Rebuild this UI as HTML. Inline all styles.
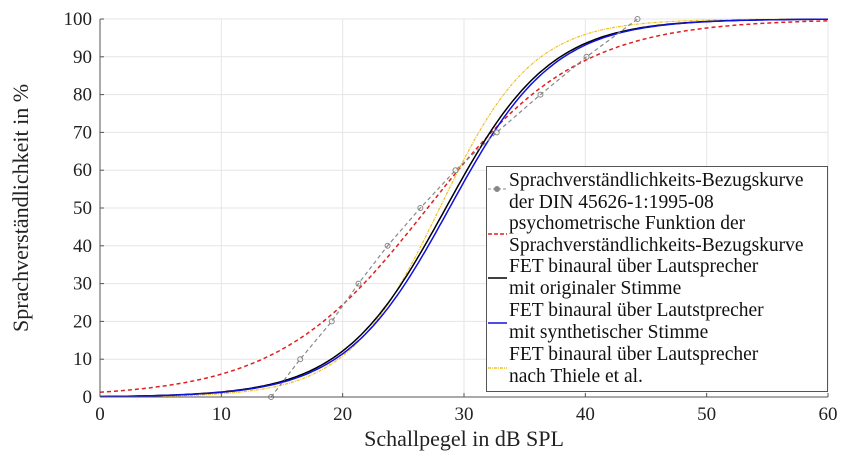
<!DOCTYPE html>
<html><head><meta charset="utf-8"><style>
body{margin:0;background:#fff;}
svg{display:block;}
svg text{font-family:"Liberation Serif","Times New Roman",Times,"DejaVu Serif",serif;}
</style></head><body>
<svg id="s" width="846" height="457" xmlns="http://www.w3.org/2000/svg">
<rect width="846" height="457" fill="#fff"/>
<g id="grid" stroke="#e6e6e6" stroke-width="1"></g>
<g id="curves" fill="none"></g>
<g stroke="#555" stroke-width="1" fill="none">
<line x1="100" y1="397" x2="828" y2="397"/>
<line x1="100" y1="19" x2="100" y2="397"/>
</g>
<g id="ticks" fill="#222" font-size="19"></g>
<text x="464" y="446" text-anchor="middle" font-size="22" fill="#222">Schallpegel in dB SPL</text>
<text transform="translate(28,208) rotate(-90)" text-anchor="middle" font-size="22" fill="#222">Sprachverständlichkeit in %</text>
<g>
<rect x="486.5" y="166.5" width="341" height="225" fill="#fff" stroke="#555"/>
<g font-size="19.5" fill="#111">
<text x="509" y="186">Sprachverständlichkeits-Bezugskurve</text>
<text x="509" y="208">der DIN 45626-1:1995-08</text>
<text x="509" y="229">psychometrische Funktion der</text>
<text x="509" y="251">Sprachverständlichkeits-Bezugskurve</text>
<text x="509" y="272">FET binaural über Lautsprecher</text>
<text x="509" y="294">mit originaler Stimme</text>
<text x="509" y="316">FET binaural über Lautstprecher</text>
<text x="509" y="338">mit synthetischer Stimme</text>
<text x="509" y="360">FET binaural über Lautsprecher</text>
<text x="509" y="382">nach Thiele et al.</text>
</g>
<line x1="488" y1="189" x2="507" y2="189" stroke="#888" stroke-dasharray="3,2"/>
<circle cx="497" cy="189" r="2.5" fill="#888" stroke="#888"/>
<line x1="488" y1="234" x2="507" y2="234" stroke="#e02020" stroke-width="1.5" stroke-dasharray="4,2"/>
<line x1="488" y1="278" x2="507" y2="278" stroke="#000" stroke-width="1.5"/>
<line x1="488" y1="323" x2="507" y2="323" stroke="#1010e0" stroke-width="1.5"/>
<line x1="488" y1="368" x2="507" y2="368" stroke="#f0c020" stroke-width="1.5" stroke-dasharray="3,1,1,1"/>
</g>
</svg>
<script>
var X=function(x){return 100+x*728/60;},Y=function(y){return 397-y*3.78;};
var ns="http://www.w3.org/2000/svg";
function el(p,t,a){var e=document.createElementNS(ns,t);for(var k in a)e.setAttribute(k,a[k]);p.appendChild(e);return e;}
var g=document.getElementById("grid"),tk=document.getElementById("ticks"),c=document.getElementById("curves");
for(var i=0;i<=6;i++){var x=X(i*10);if(i>0)el(g,"line",{x1:x,y1:19,x2:x,y2:397});
 var t=el(tk,"text",{x:x,y:420,"text-anchor":"middle"});t.textContent=i*10;
 el(tk,"line",{x1:x,y1:397,x2:x,y2:393,stroke:"#555"});}
for(var j=0;j<=10;j++){var y=Y(j*10);if(j>0)el(g,"line",{x1:100,y1:y,x2:828,y2:y});
 var t=el(tk,"text",{x:92,y:y+6,"text-anchor":"end"});t.textContent=j*10;
 el(tk,"line",{x1:100,y1:y,x2:104,y2:y,stroke:"#555"});}
function curve(m,s,col,dash,w){var d="";for(var x=0;x<=60;x+=0.25){var p=100/(1+Math.exp(-(x-m)/s));d+=(x?"L":"M")+X(x).toFixed(1)+","+Y(p).toFixed(1);}
 var a={d:d,stroke:col,"stroke-width":w||1.5};if(dash)a["stroke-dasharray"]=dash;el(c,"path",a);}
curve(27,6.2,"#e02020","4,3");
curve(28.0,3.8,"#f0c020","3,1,1,1",1.2);
curve(28.5,4.3,"#000");
curve(28.8,4.3,"#1010e0");
var pts=[[14.1,0],[16.5,10],[19.1,20],[21.3,30],[23.7,40],[26.4,50],[29.3,60],[32.7,70],[36.3,80],[40.1,90],[44.3,100]];
var d="";pts.forEach(function(p,i){d+=(i?"L":"M")+X(p[0])+","+Y(p[1]);});
el(c,"path",{d:d,stroke:"#888","stroke-width":1.2,"stroke-dasharray":"4,3"});
pts.forEach(function(p){el(c,"circle",{cx:X(p[0]),cy:Y(p[1]),r:2.5,stroke:"#888",fill:"none"});});
</script>
</body></html>
